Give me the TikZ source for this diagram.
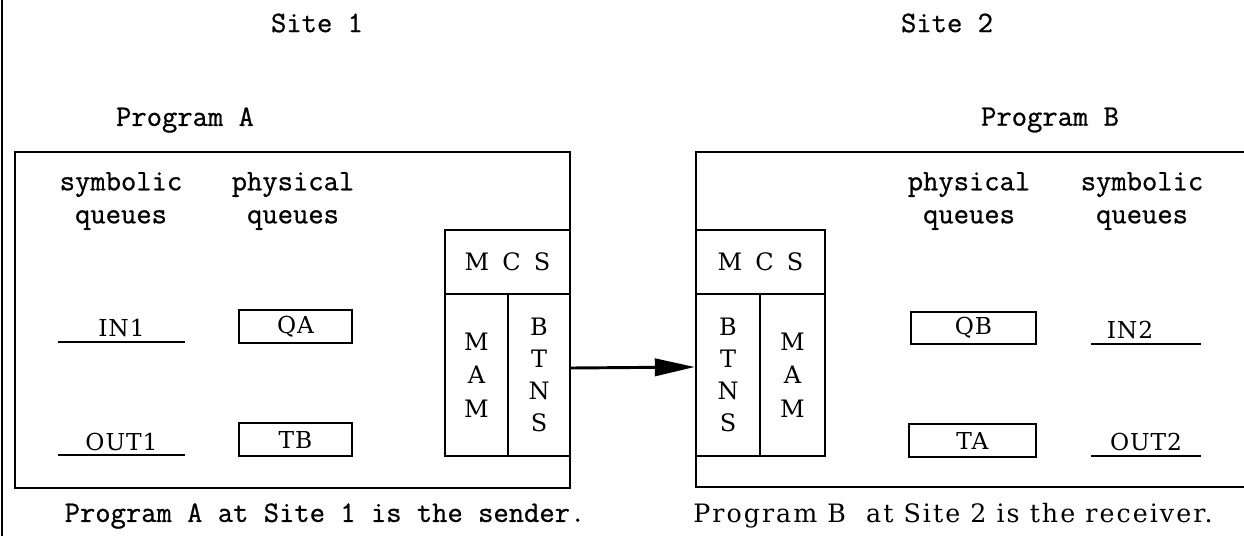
\documentclass[tikz,border=0pt]{standalone}
\usepackage{fontspec}
\setmainfont{DejaVu Serif}
\newfontfamily\typer{Latin Modern Mono}[FakeBold=0.8]
\newfontfamily\lblfont{DejaVu Serif}[LetterSpace=4]
\newfontfamily\propfont{DejaVu Serif}[LetterSpace=8]
\usetikzlibrary{arrows.meta,fit}

\begin{document}
\begin{tikzpicture}[x=0.75pt,y=-0.75pt,
  mono/.style={font=\typer\fontsize{22.3}{24.75}\selectfont, inner sep=0pt, align=center},
  lbl/.style={font=\lblfont\fontsize{17.5}{20}\selectfont, inner sep=0pt},
  stack/.style={font=\lblfont\fontsize{18}{25}\selectfont, inner sep=0pt, align=center},
  frame/.style={draw, line width=2pt, inner sep=0pt},
  cell/.style={draw, line width=1.8pt, inner sep=0pt},
  qbox/.style={draw, line width=1.8pt, inner sep=0pt, font=\lblfont\fontsize{17.5}{20}\selectfont},
  ulabel/.style={lbl, minimum width=95.25pt},
  uline/.style={line width=1.4pt},
  arr/.style={line width=2.2pt, -{Triangle[length=30pt,width=13pt]}}
]
\useasboundingbox (0,0) rectangle (1244,536);

% page edge on the left
\draw[line width=1.4pt] (2,0) -- (2,536);

% site and program headings
\node[mono] (site1) at (317,23) {Site 1};
\node[mono] (site2) at (947,23) {Site 2};
\node[mono] (progAlabel) at (185,120) {Program A};
\node[mono] (progBlabel) at (1050,120) {Program B};

% program frames (the right one runs off the page)
\node[frame, fit={(15,152)(570,488)}] (progA) {};
\node[frame, fit={(696,152)(1270,487)}] (progB) {};

% column headings, site 1
\node[mono] (symA) at (121,201) {symbolic\\queues};
\node[mono] (phyA) at (293,201) {physical\\queues};
% column headings, site 2
\node[mono] (phyB) at (969,201) {physical\\queues};
\node[mono] (symB) at (1142,201) {symbolic\\queues};

% symbolic queues, site 1
\node[ulabel, minimum height=21pt] (in1) at (121.5,328) {IN1};
\draw[uline] (in1.south west) -- (in1.south east);
\node[ulabel, minimum height=20.25pt] (out1) at (121.5,441.5) {OUT1};
\draw[uline] (out1.south west) -- (out1.south east);

% physical queues, site 1
\node[qbox, minimum width=84.75pt, minimum height=24.75pt] (qa) at (295.5,326.5) {QA};
\node[qbox, minimum width=84.75pt, minimum height=24.75pt] (tb) at (295.5,439.5) {TB};

% physical queues, site 2
\node[qbox, minimum width=93.75pt, minimum height=24pt] (qb) at (973.5,328) {QB};
\node[qbox, minimum width=95.25pt, minimum height=24.75pt] (ta) at (972.5,440.5) {TA};

% symbolic queues, site 2
\node[lbl, minimum width=82.5pt, minimum height=21pt] (in2) at (1146,330) {IN2\hspace*{24pt}};
\draw[uline] (in2.south west) -- (in2.south east);
\node[lbl, minimum width=82.5pt, minimum height=21pt] (out2) at (1146,442) {OUT2};
\draw[uline] (out2.south west) -- (out2.south east);

% message control system, site 1
\node[cell, minimum width=93.75pt, minimum height=48pt, font=\lblfont\fontsize{18}{20}\selectfont] (mcsA) at (507.5,262) {M\hspace{0.55em}C\hspace{0.55em}S};
\node[cell, stack, minimum width=47.25pt, minimum height=121.5pt] (mamA) at (476.5,375) {M\\A\\M};
\node[cell, stack, minimum width=46.5pt, minimum height=121.5pt, font=\lblfont\fontsize{18}{24}\selectfont] (btnsA) at (539,375) {B\\T\\N\\S};

% message control system, site 2
\node[cell, minimum width=96.75pt, minimum height=48pt, font=\lblfont\fontsize{18}{20}\selectfont] (mcsB) at (760.5,262) {M\hspace{0.55em}C\hspace{0.55em}S};
\node[cell, stack, minimum width=48pt, minimum height=121.5pt, font=\lblfont\fontsize{18}{24}\selectfont] (btnsB) at (728,375) {B\\T\\N\\S};
\node[cell, stack, minimum width=48.75pt, minimum height=121.5pt] (mamB) at (792.5,375) {M\\A\\M};

% transmission between the two network services
\draw[arr] ([yshift=5.25pt]btnsA.east) -- ([yshift=6pt]btnsB.west);

% captions
\node[mono] (capA) at (325,516) {Program A at Site 1 is the sender.};
\node[font=\propfont\fontsize{19}{23}\selectfont, inner sep=0pt] (capB) at (953,516) {Program B\ \ at Site 2 is the receiver.};
\end{tikzpicture}
\end{document}
